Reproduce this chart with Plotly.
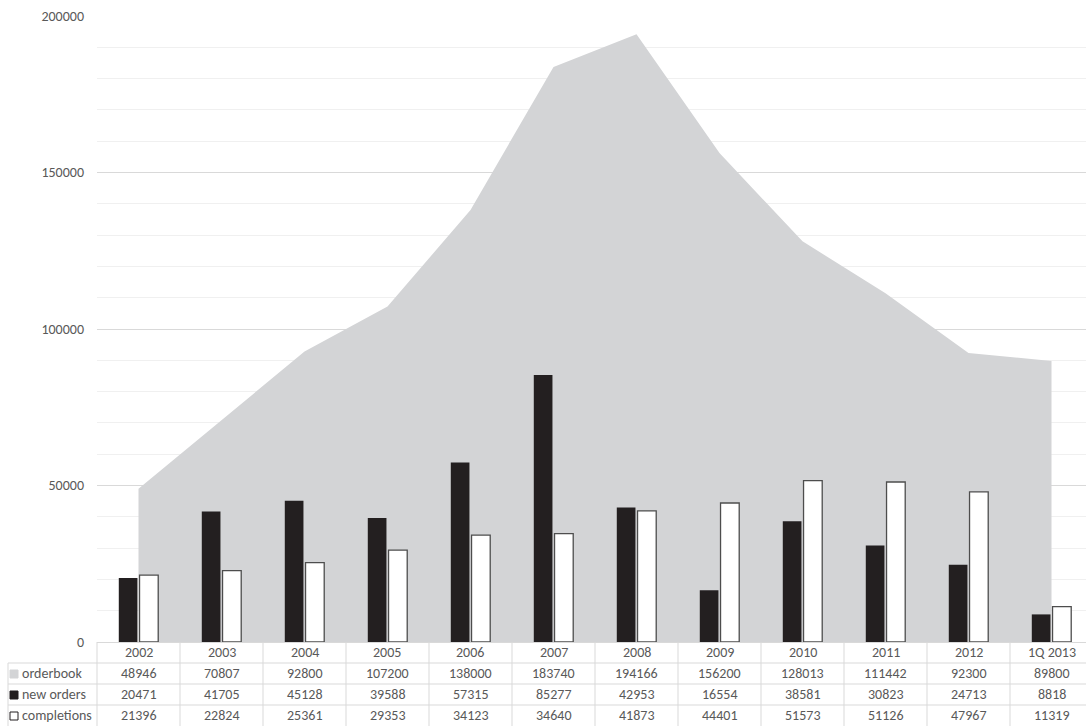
import plotly.graph_objects as go

# Shipbuilding market: orderbook, new orders and completions per period
categories = ["2002", "2003", "2004", "2005", "2006", "2007", "2008", "2009",
              "2010", "2011", "2012", "1Q 2013"]
orderbook = [48946, 70807, 92800, 107200, 138000, 183740, 194166, 156200,
             128013, 111442, 92300, 89800]
new_orders = [20471, 41705, 45128, 39588, 57315, 85277, 42953, 16554,
              38581, 30823, 24713, 8818]
completions = [21396, 22824, 25361, 29353, 34123, 34640, 41873, 44401,
               51573, 51126, 47967, 11319]

series_labels = ["orderbook", "new orders", "completions"]
# legend-key swatches shown beside each table row: (fill, outline)
key_styles = [("#d3d4d6", "#d3d4d6"), ("#231f20", "#231f20"),
              ("#ffffff", "#231f20")]

W, H = 1086, 726
ML, MR, MT, MB = 97, 0, 16, 84
COL_PX = 83.0          # width of one category column in pixels
ROW_PX = 21.0          # height of one data-table row
TABLE_LEFT = 8         # left edge of the series-label column
KEY_PX = 8             # size of the legend-key squares

plot_w = W - ML - MR
plot_h = H - MT - MB
x0 = -0.5
x1 = x0 + plot_w / COL_PX
Y_RANGE = [0, 200000]

TEXT = "#595959"
GRID = "#d9d9d9"
FONT = "Carlito, Lato, sans-serif"
FS = 14

idx = list(range(len(categories)))

fig = go.Figure()
# area on the base axes so the bars (on the overlay axes) sit on top of it
fig.add_trace(go.Scatter(
    x=idx, y=orderbook, mode="lines", line=dict(width=0, color="#d3d4d6"),
    fill="tozeroy", fillcolor="#d3d4d6", name="orderbook", hoverinfo="skip",
    xaxis="x", yaxis="y"))
fig.add_trace(go.Bar(
    x=idx, y=new_orders, name="new orders", xaxis="x2", yaxis="y2",
    marker=dict(color="#231f20", line=dict(width=0))))
fig.add_trace(go.Bar(
    x=idx, y=completions, name="completions", xaxis="x2", yaxis="y2",
    marker=dict(color="#ffffff", line=dict(width=1.3, color="#4d4d4d"))))


def px_to_paper_x(px):
    return (px - ML) / plot_w


def px_to_paper_y(py):
    return (H - MB - py) / plot_h


def data_to_paper_x(xd):
    return (xd - x0) / (x1 - x0)


shapes = []
annotations = []
axis_y = H - MB
line_style = dict(color=GRID, width=1)

# horizontal rules of the data table
for r in range(1, 4):
    yy = px_to_paper_y(axis_y + r * ROW_PX)
    shapes.append(dict(type="line", xref="paper", yref="paper",
                       x0=px_to_paper_x(TABLE_LEFT), x1=1.0, y0=yy, y1=yy,
                       line=line_style))
# vertical rules: label column edge and category boundaries
shapes.append(dict(type="line", xref="paper", yref="paper",
                   x0=px_to_paper_x(TABLE_LEFT), x1=px_to_paper_x(TABLE_LEFT),
                   y0=px_to_paper_y(axis_y + ROW_PX), y1=px_to_paper_y(H),
                   line=line_style))
for k in range(len(categories) + 1):
    xx = data_to_paper_x(k - 0.5)
    if xx > 1.0:
        continue
    shapes.append(dict(type="line", xref="paper", yref="paper",
                       x0=xx, x1=xx, y0=0, y1=px_to_paper_y(H),
                       line=line_style))

# header row with categories and the three value rows
rows = [categories, orderbook, new_orders, completions]
for r, row in enumerate(rows):
    yc_px = axis_y + (r + 0.5) * ROW_PX
    yc = px_to_paper_y(yc_px)
    for i, v in enumerate(row):
        annotations.append(dict(
            xref="paper", yref="paper", x=data_to_paper_x(i), y=yc,
            text=str(v), showarrow=False, xanchor="center", yanchor="middle",
            font=dict(family=FONT, size=FS, color=TEXT)))
    if r > 0:
        fill, edge = key_styles[r - 1]
        kx = TABLE_LEFT + 2
        shapes.append(dict(
            type="rect", xref="paper", yref="paper",
            x0=px_to_paper_x(kx), x1=px_to_paper_x(kx + KEY_PX),
            y0=px_to_paper_y(yc_px + KEY_PX / 2 + 0.5),
            y1=px_to_paper_y(yc_px - KEY_PX / 2 + 0.5),
            fillcolor=fill, line=dict(color=edge, width=1)))
        annotations.append(dict(
            xref="paper", yref="paper", x=px_to_paper_x(kx + KEY_PX + 2),
            y=yc, text=series_labels[r - 1],
            showarrow=False, xanchor="left", yanchor="middle",
            font=dict(family=FONT, size=FS, color=TEXT)))

fig.update_layout(
    width=W, height=H,
    margin=dict(l=ML, r=MR, t=MT, b=MB, pad=0),
    paper_bgcolor="#ffffff", plot_bgcolor="#ffffff",
    showlegend=False,
    barmode="group", bargap=0.5, bargroupgap=0.1,
    font=dict(family=FONT, size=FS, color=TEXT),
    shapes=shapes, annotations=annotations,
    xaxis=dict(range=[x0, x1], showticklabels=False, showgrid=False,
               zeroline=False, showline=True, linecolor=GRID, linewidth=1,
               ticks=""),
    yaxis=dict(range=Y_RANGE, tickvals=[0, 50000, 100000, 150000, 200000],
               ticktext=["0", "50000", "100000", "150000", "200000"],
               showgrid=True, gridcolor=GRID, gridwidth=1, zeroline=False,
               showline=False, ticks="", ticklabelstandoff=12,
               tickfont=dict(family=FONT, size=FS, color=TEXT),
               minor=dict(dtick=10000, showgrid=True, gridcolor="#f0f0f0",
                          gridwidth=1)),
    xaxis2=dict(range=[x0, x1], overlaying="x", visible=False,
                showgrid=False, zeroline=False),
    yaxis2=dict(range=Y_RANGE, overlaying="y", visible=False,
                showgrid=False, zeroline=False),
)

fig.write_html("out.html")
